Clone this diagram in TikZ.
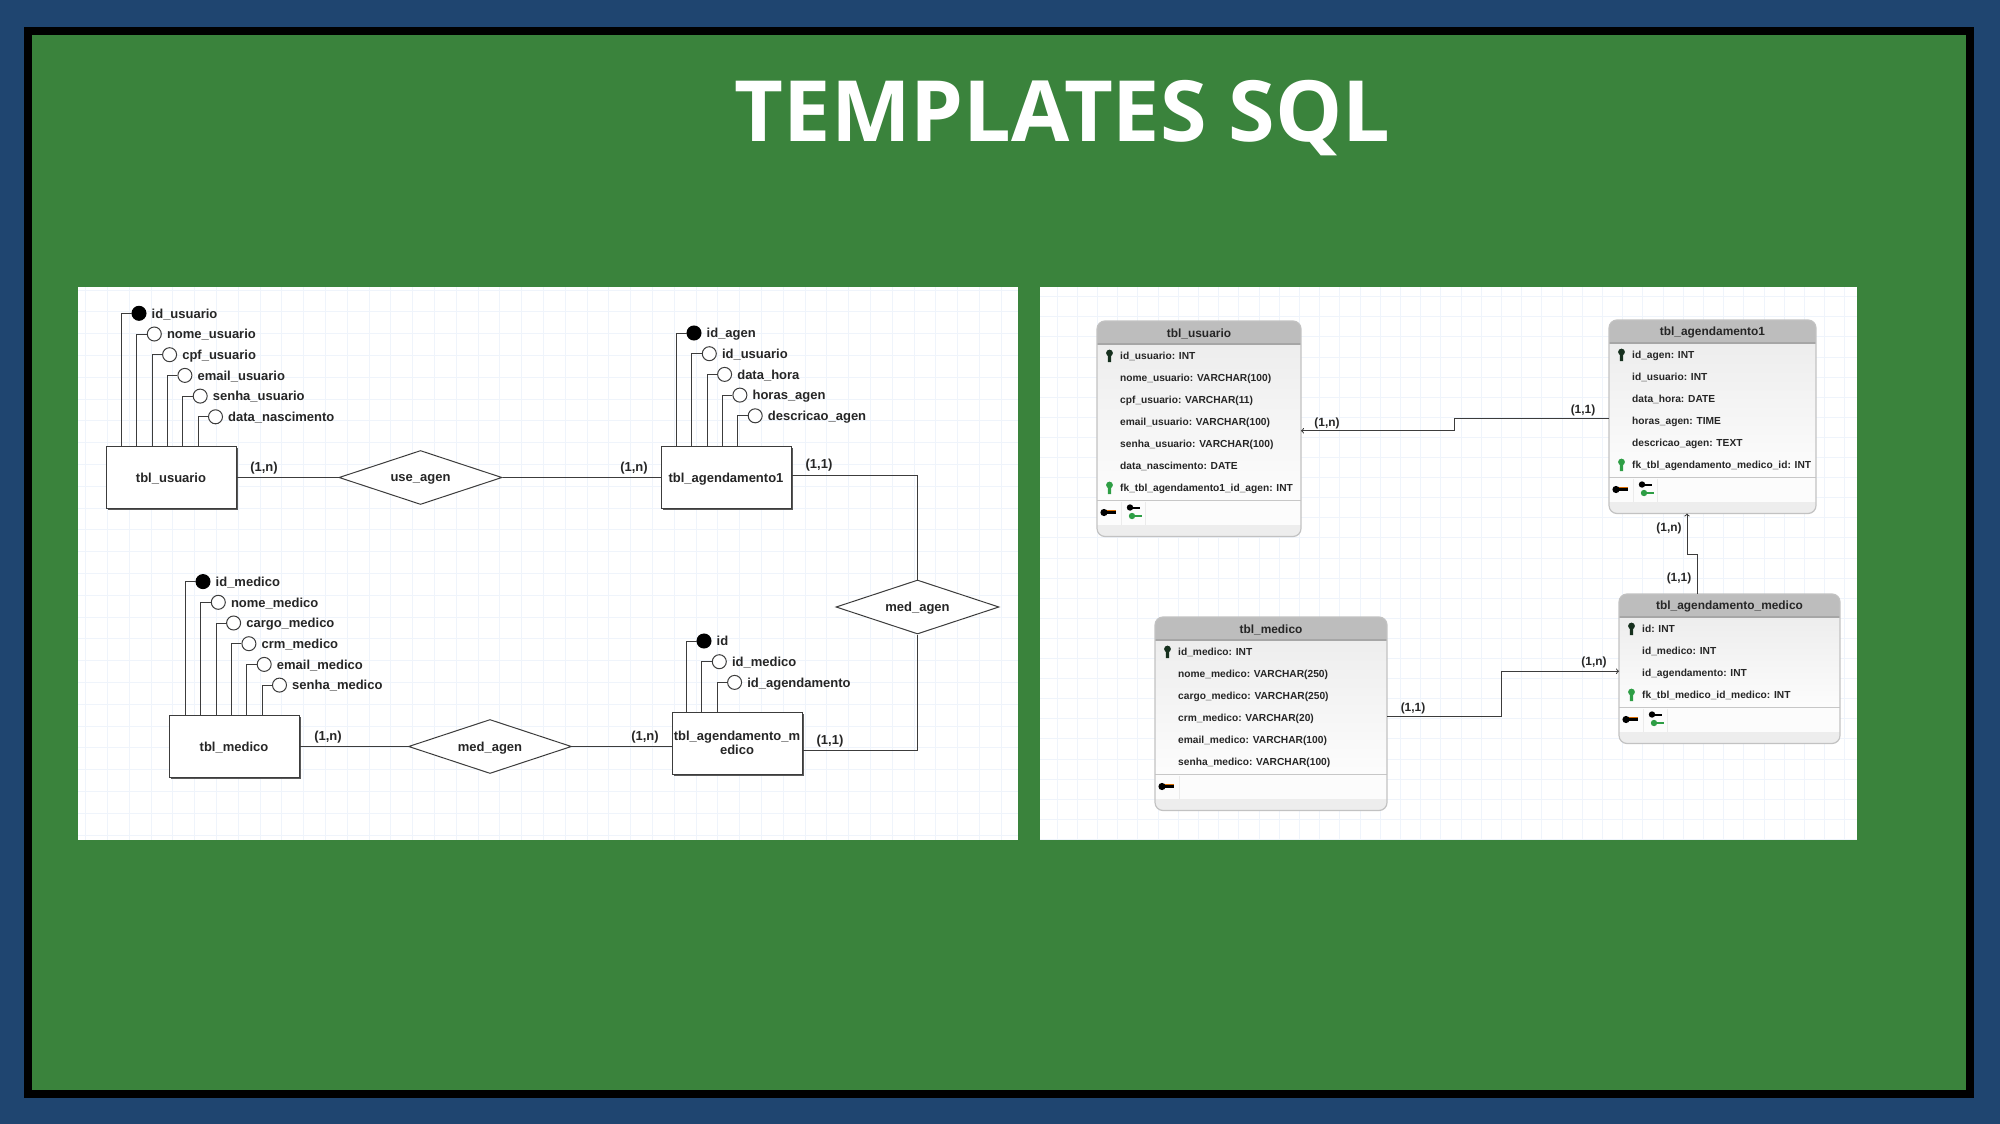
\documentclass[tikz,border=0pt]{standalone}
\usepackage{fontspec}
\setmainfont{Liberation Sans}
\newfontfamily\titulofont{Open Sans}
\usetikzlibrary{positioning,shapes.geometric}

\definecolor{azulfundo}{HTML}{1F4570}
\definecolor{verdefundo}{HTML}{3A833C}
\definecolor{traco}{HTML}{3C3C3C}
\definecolor{grade}{HTML}{EFF4FB}
\definecolor{cabecalho}{HTML}{BDBDBD}
\definecolor{chaveverde}{HTML}{2E9E45}
\definecolor{chaveescura}{HTML}{16301E}

\tikzset{
	x=1pt,y=-1pt,
	rotulo/.style={inner sep=0pt,text depth=0pt,text=black!85,font=\fontsize{13}{13.5}\selectfont\bfseries},
	rotulotab/.style={inner sep=0pt,text depth=0pt,text=black!85,font=\fontsize{10.2}{12}\selectfont\bfseries},
	card/.style={rotulo},
	cardtab/.style={inner sep=0pt,text=black!85,font=\fontsize{11.9}{13}\selectfont\bfseries},
	linha/.style={draw=traco,line width=1pt},
	liga/.style={linha,->,>=to},
	linhagrade/.style={draw=grade,line width=1pt},
	entidade/.style={rotulo,draw=traco,fill=white,line width=1pt,minimum width=130pt,minimum height=62pt,align=center,
		preaction={fill=black!65,transform canvas={xshift=1.8pt,yshift=-1.8pt}}},
	relacao/.style={rotulo,diamond,draw=traco,fill=white,line width=1pt,aspect=3,minimum width=163pt,minimum height=54pt},
	bola/.style={circle,draw=traco,fill=white,line width=1pt,minimum size=14pt,inner sep=0pt},
	bolacheia/.style={bola,fill=black,draw=black},
	tabela/.style={draw=black!24,line width=1.2pt,rounded corners=8pt,inner sep=0pt,outer sep=0pt},
	chavep/.pic={
		\fill[chaveescura] (0,-2) circle (3.4);
		\fill[chaveescura] (-1.5,-2) -- (1.5,-2) -- (1.7,7) -- (-1.7,7) -- cycle;
	},
	chavef/.pic={
		\fill[chaveverde] (0,-2) circle (3.4);
		\fill[chaveverde] (-1.5,-2) -- (1.5,-2) -- (1.7,7) -- (-1.7,7) -- cycle;
	},
	chaven/.pic={},
	iconep/.pic={
		\fill[orange!85!black] (-4,-2.8) rectangle (8,1);
		\fill[black] (-4,0) circle (3.6);
		\fill[black] (-4,-1.2) rectangle (8,1.4);
	},
	iconef/.pic={
		\fill[black] (-2,-5) circle (3.2);
		\fill[black] (-2,-6) rectangle (8,-3.8);
		\fill[chaveverde] (0,3.5) circle (3.2);
		\fill[chaveverde] (0,2.4) rectangle (10,4.8);
	},
}

% #1 entidade, #2 x da primeira haste, #3 y do primeiro atributo, #4 nomes
\newcommand{\atributos}[4]{
	\foreach \nome [count=\i] in {#4} {
		\pgfmathsetmacro{\cx}{#2+17+15.3*(\i-1)}
		\pgfmathsetmacro{\cy}{#3+20.7*(\i-1)}
		\ifnum\i=1
			\node[bolacheia] (#1-\i) at (\cx,\cy) {};
		\else
			\node[bola] (#1-\i) at (\cx,\cy) {};
		\fi
		\node[rotulo,anchor=west,right=5pt of #1-\i] (#1-nome-\i) {\nome};
		\draw[linha] (#1-\i.west) -- ++(-10,0) coordinate (haste) -- (haste |- #1.north);
	}
}

% #1 nome, #2 esquerda, #3 topo, #4 direita, #5 titulo, #6 linhas, #7 icones, #8 campos
\newcommand{\tabelasql}[8]{
	\pgfmathsetmacro{\rod}{#3+25.5+22*#6}
	\pgfmathsetmacro{\base}{\rod+36}
	\pgfmathsetmacro{\larg}{#4-#2}
	\pgfmathsetmacro{\alt}{\base-#3}
	\begin{scope}
		\clip[rounded corners=8pt] (#2,#3) rectangle (#4,\base);
		\shade[top color=black!7,bottom color=black!1] (#2,#3+23) rectangle (#4,\rod);
		\fill[cabecalho] (#2,#3) rectangle (#4,#3+23);
		\fill[black!1] (#2,\rod) rectangle (#4,\rod+24);
		\fill[black!7] (#2,\rod+24) rectangle (#4,\base);
		\draw[black!35,line width=1.2pt] (#2,#3+23) -- (#4,#3+23);
		\draw[black!22,line width=1.5pt] (#2,\rod) -- (#4,\rod);
	\end{scope}
	\node[tabela,anchor=north west,minimum width=\larg pt,minimum height=\alt pt] (#1) at (#2,#3) {};
	\node[cardtab] (#1-titulo) at (#2+\larg/2,#3+12.5) {#5};
	\foreach \tipo/\campo [count=\i] in {#8} {
		\pgfmathsetmacro{\ly}{#3+34+22*(\i-1)}
		\node[rotulotab,anchor=west] (#1-\i) at (#2+23,\ly) {\strut\campo};
		\pic at (#2+12.5,\ly) {chave\tipo};
	}
	\foreach \icone [count=\j] in {#7} {
		\pgfmathsetmacro{\ix}{#2+11+24*(\j-1)}
		\pgfmathsetmacro{\sx}{#2+24*\j}
		\pic at (\ix,\rod+12) {\icone};
		\draw[black!8] (\sx,\rod+1) -- (\sx,\rod+24);
	}
}

\begin{document}
\begin{tikzpicture}
	\useasboundingbox (0,0) rectangle (2000,1124);
	\fill[azulfundo] (0,0) rectangle (2000,1124);
	\fill[black] (24,27) rectangle (1974,1098);
	\fill[verdefundo] (32,35) rectangle (1966,1090);
	\node[text=white,font=\titulofont\fontsize{84.5}{90}\selectfont\bfseries,inner sep=0pt] (titulo) at (1062.5,118.5) {TEMPLATES SQL};

	\fill[white] (78,287) rectangle (1018,840);
	\fill[white] (1040,287) rectangle (1857,840);
	\foreach \x in {85.7,107.5,...,1018} \draw[linhagrade] (\x,287) -- (\x,840);
	\foreach \y in {290,311.8,...,840} \draw[linhagrade] (78,\y) -- (1018,\y);
	\foreach \x in {1057,1077.2,...,1857} \draw[linhagrade] (\x,287) -- (\x,840);
	\foreach \y in {296.7,316.8,...,840} \draw[linhagrade] (1040,\y) -- (1857,\y);

	\node[entidade] (eusuario) at (171,477.5) {tbl\_usuario};
	\node[entidade] (eagenda) at (726,477.5) {tbl\_agendamento1};
	\node[entidade] (emedico) at (234,746.5) {tbl\_medico};
	\node[entidade] (eagmedico) at (737,743) {tbl\_agendamento\_m\\edico};
	\node[relacao] (dusuario) at (420.5,477.5) {use\_agen};
	\node[relacao] (dmedico) at (490,746.5) {med\_agen};
	\node[relacao] (dagenda) at (917.5,607) {med\_agen};

	\atributos{eusuario}{122}{313.3}{id\_usuario,nome\_usuario,cpf\_usuario,email\_usuario,senha\_usuario,data\_nascimento}
	\atributos{eagenda}{677}{333}{id\_agen,id\_usuario,data\_hora,horas\_agen,descricao\_agen}
	\atributos{emedico}{186}{581.6}{id\_medico,nome\_medico,cargo\_medico,crm\_medico,email\_medico,senha\_medico}
	\atributos{eagmedico}{687}{641}{id,id\_medico,id\_agendamento}

	\draw[linha] (eusuario.east) -- (dusuario.west);
	\draw[linha] (dusuario.east) -- (eagenda.west);
	\draw[linha] (emedico.east) -- (dmedico.west);
	\draw[linha] (dmedico.east) -- (dmedico.east -| eagmedico.west);
	\draw[linha] ([yshift=2.5pt]eagenda.east) -| (dagenda.north);
	\draw[linha] ([yshift=-7pt]eagmedico.east) -| (dagenda.south);

	\node[card] (c1) at (264,467) {(1,n)};
	\node[card] (c2) at (634,467) {(1,n)};
	\node[card] (c3) at (819,464) {(1,1)};
	\node[card] (c4) at (328,736) {(1,n)};
	\node[card] (c5) at (645,736) {(1,n)};
	\node[card] (c6) at (830,740) {(1,1)};

	\tabelasql{tusuario}{1097}{321}{1301}{tbl\_usuario}{7}{iconep,iconef}{p/id\_usuario: INT,n/nome\_usuario: VARCHAR(100),n/cpf\_usuario: VARCHAR(11),n/email\_usuario: VARCHAR(100),n/senha\_usuario: VARCHAR(100),n/data\_nascimento: DATE,f/fk\_tbl\_agendamento1\_id\_agen: INT}
	\tabelasql{tagenda}{1609}{320}{1816}{tbl\_agendamento1}{6}{iconep,iconef}{p/id\_agen: INT,n/id\_usuario: INT,n/data\_hora: DATE,n/horas\_agen: TIME,n/descricao\_agen: TEXT,f/fk\_tbl\_agendamento\_medico\_id: INT}
	\tabelasql{tmedico}{1155}{617}{1387}{tbl\_medico}{6}{iconep}{p/id\_medico: INT,n/nome\_medico: VARCHAR(250),n/cargo\_medico: VARCHAR(250),n/crm\_medico: VARCHAR(20),n/email\_medico: VARCHAR(100),n/senha\_medico: VARCHAR(100)}
	\tabelasql{tagmedico}{1619}{594}{1840}{tbl\_agendamento\_medico}{4}{iconep,iconef}{p/id: INT,n/id\_medico: INT,n/id\_agendamento: INT,f/fk\_tbl\_medico\_id\_medico: INT}

	\draw[liga] ([yshift=-2pt]tagenda.west) -- ++(-155,0) |- ([yshift=-2pt]tusuario.east);
	\draw[liga] ([xshift=-32.5pt]tagmedico.north) -- ++(0,-40) -| ([xshift=-25.5pt]tagenda.south);
	\draw[liga] ([yshift=-3pt]tmedico.east) -- ++(114,0) |- ([yshift=-2.5pt]tagmedico.west);

	\node[cardtab] (d1) at (1327,423) {(1,n)};
	\node[cardtab] (d2) at (1583,410) {(1,1)};
	\node[cardtab] (d3) at (1669,528) {(1,n)};
	\node[cardtab] (d4) at (1679,578) {(1,1)};
	\node[cardtab] (d5) at (1413,708) {(1,1)};
	\node[cardtab] (d6) at (1594,662) {(1,n)};
\end{tikzpicture}
\end{document}
